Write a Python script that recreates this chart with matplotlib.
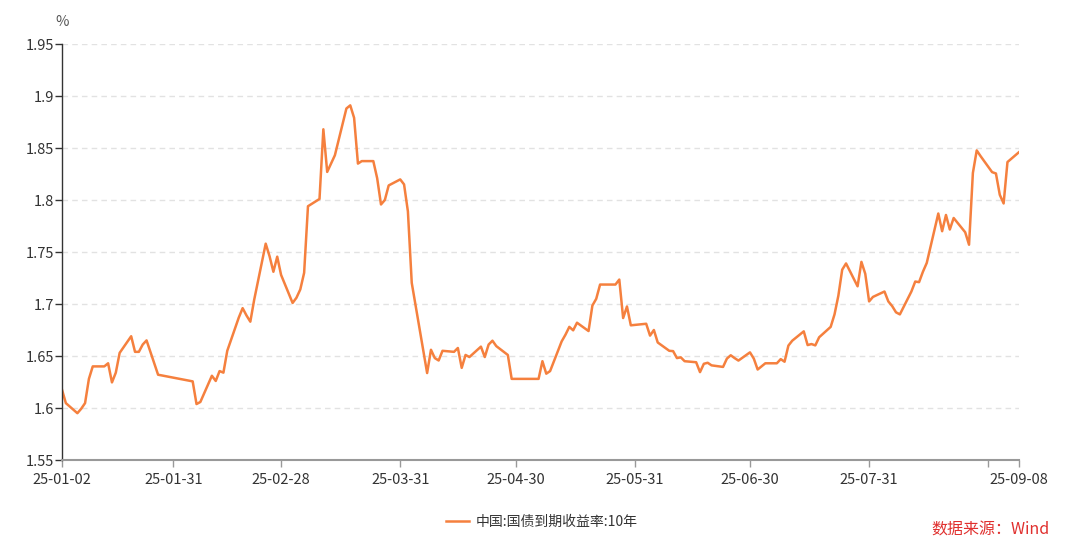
import numpy as np
import pandas as pd
import matplotlib
matplotlib.use("Agg")
import matplotlib.pyplot as plt
import matplotlib.dates as mdates

plt.rcParams['font.family'] = ['Noto Sans CJK SC', 'DejaVu Sans']

# 中国:国债到期收益率:10年 (%)
dates = [
    "2025-01-02", "2025-01-03", "2025-01-06", "2025-01-07", "2025-01-08", "2025-01-09", "2025-01-10",
    "2025-01-13", "2025-01-14", "2025-01-15", "2025-01-16", "2025-01-17",
    "2025-01-20", "2025-01-21", "2025-01-22", "2025-01-23", "2025-01-24", "2025-01-27",
    "2025-02-05", "2025-02-06", "2025-02-07",
    "2025-02-10", "2025-02-11", "2025-02-12", "2025-02-13", "2025-02-14",
    "2025-02-17", "2025-02-18", "2025-02-19", "2025-02-20", "2025-02-21",
    "2025-02-24", "2025-02-25", "2025-02-26", "2025-02-27", "2025-02-28",
    "2025-03-03", "2025-03-04", "2025-03-05", "2025-03-06", "2025-03-07",
    "2025-03-10", "2025-03-11", "2025-03-12", "2025-03-13", "2025-03-14",
    "2025-03-17", "2025-03-18", "2025-03-19", "2025-03-20", "2025-03-21",
    "2025-03-24", "2025-03-25", "2025-03-26", "2025-03-27", "2025-03-28",
    "2025-03-31", "2025-04-01", "2025-04-02", "2025-04-03",
    "2025-04-07", "2025-04-08", "2025-04-09", "2025-04-10", "2025-04-11",
    "2025-04-14", "2025-04-15", "2025-04-16", "2025-04-17", "2025-04-18",
    "2025-04-21", "2025-04-22", "2025-04-23", "2025-04-24", "2025-04-25",
    "2025-04-28", "2025-04-29", "2025-04-30",
    "2025-05-06", "2025-05-07", "2025-05-08", "2025-05-09",
    "2025-05-12", "2025-05-13", "2025-05-14", "2025-05-15", "2025-05-16",
    "2025-05-19", "2025-05-20", "2025-05-21", "2025-05-22", "2025-05-23",
    "2025-05-26", "2025-05-27", "2025-05-28", "2025-05-29", "2025-05-30",
    "2025-06-03", "2025-06-04", "2025-06-05", "2025-06-06",
    "2025-06-09", "2025-06-10", "2025-06-11", "2025-06-12", "2025-06-13",
    "2025-06-16", "2025-06-17", "2025-06-18", "2025-06-19", "2025-06-20",
    "2025-06-23", "2025-06-24", "2025-06-25", "2025-06-26", "2025-06-27",
    "2025-06-30", "2025-07-01", "2025-07-02", "2025-07-03", "2025-07-04",
    "2025-07-07", "2025-07-08", "2025-07-09", "2025-07-10", "2025-07-11",
    "2025-07-14", "2025-07-15", "2025-07-16", "2025-07-17", "2025-07-18",
    "2025-07-21", "2025-07-22", "2025-07-23", "2025-07-24", "2025-07-25",
    "2025-07-28", "2025-07-29", "2025-07-30", "2025-07-31", "2025-08-01",
    "2025-08-04", "2025-08-05", "2025-08-06", "2025-08-07", "2025-08-08",
    "2025-08-11", "2025-08-12", "2025-08-13", "2025-08-14", "2025-08-15",
    "2025-08-18", "2025-08-19", "2025-08-20", "2025-08-21", "2025-08-22",
    "2025-08-25", "2025-08-26", "2025-08-27", "2025-08-28", "2025-08-29",
    "2025-09-01", "2025-09-02", "2025-09-03", "2025-09-04", "2025-09-05",
    "2025-09-08",
]
yields = [
    1.6176, 1.6047, 1.5950, 1.5993, 1.6047, 1.6280, 1.6400,
    1.6400, 1.6430, 1.6246, 1.6340, 1.6530,
    1.6690, 1.6540, 1.6540, 1.6610, 1.6650, 1.6320,
    1.6256, 1.6038, 1.6058,
    1.6310, 1.6260, 1.6355, 1.6340, 1.6550,
    1.6870, 1.6960, 1.6890, 1.6830, 1.7040,
    1.7580, 1.7460, 1.7310, 1.7455, 1.7280,
    1.7010, 1.7060, 1.7140, 1.7300, 1.7940,
    1.8010, 1.8680, 1.8270, 1.8350, 1.8430,
    1.8880, 1.8910, 1.8790, 1.8350, 1.8374,
    1.8374, 1.8210, 1.7957, 1.8000, 1.8140,
    1.8198, 1.8150, 1.7890, 1.7203,
    1.6336, 1.6560, 1.6480, 1.6457, 1.6550,
    1.6540, 1.6577, 1.6386, 1.6510, 1.6490,
    1.6590, 1.6490, 1.6610, 1.6647, 1.6595,
    1.6510, 1.6280, 1.6280,
    1.6280, 1.6450, 1.6330, 1.6355,
    1.6640, 1.6705, 1.6780, 1.6747, 1.6820,
    1.6740, 1.6985, 1.7050, 1.7187, 1.7187,
    1.7187, 1.7235, 1.6865, 1.6976, 1.6795,
    1.6810, 1.6696, 1.6750, 1.6630,
    1.6550, 1.6547, 1.6480, 1.6487, 1.6450,
    1.6440, 1.6345, 1.6425, 1.6435, 1.6410,
    1.6395, 1.6475, 1.6507, 1.6480, 1.6456,
    1.6535, 1.6475, 1.6370, 1.6400, 1.6430,
    1.6430, 1.6470, 1.6445, 1.6600, 1.6647,
    1.6737, 1.6605, 1.6615, 1.6602, 1.6680,
    1.6780, 1.6900, 1.7080, 1.7330, 1.7390,
    1.7170, 1.7405, 1.7290, 1.7025, 1.7068,
    1.7120, 1.7025, 1.6980, 1.6920, 1.6900,
    1.7120, 1.7216, 1.7210, 1.7310, 1.7395,
    1.7870, 1.7700, 1.7856, 1.7716, 1.7827,
    1.7690, 1.7570, 1.8260, 1.8477, 1.8422,
    1.8268, 1.8255, 1.8050, 1.7967, 1.8365,
    1.8460,
]

tick_dates = ["2025-01-02", "2025-01-31", "2025-02-28", "2025-03-31", "2025-04-30",
              "2025-05-31", "2025-06-30", "2025-07-31", "2025-08-31", "2025-09-08"]
tick_labels = ["25-01-02", "25-01-31", "25-02-28", "25-03-31", "25-04-30",
               "25-05-31", "25-06-30", "25-07-31", "", "25-09-08"]
y_ticks = [1.55, 1.6, 1.65, 1.7, 1.75, 1.8, 1.85, 1.9, 1.95]
y_labels = ["1.55", "1.6", "1.65", "1.7", "1.75", "1.8", "1.85", "1.9", "1.95"]

x = pd.to_datetime(dates)

fig = plt.figure(figsize=(10.8, 5.54), dpi=100)
ax = fig.add_axes([62/1080, 1 - 460/554, (1019 - 62)/1080, (460 - 44)/554])

ax.plot(x, yields, color="#F5803E", lw=1.8, label="中国:国债到期收益率:10年")

ax.set_xlim(pd.Timestamp("2025-01-02"), pd.Timestamp("2025-09-08"))
ax.set_ylim(1.55, 1.95)
ax.set_xticks(pd.to_datetime(tick_dates))
ax.set_xticklabels(tick_labels)
ax.set_yticks(y_ticks)
ax.set_yticklabels(y_labels)

ax.grid(axis="y", ls=(0, (4, 3)), color="#e2e2e2", lw=1)
ax.set_axisbelow(True)

for s in ["top", "right"]:
    ax.spines[s].set_visible(False)
ax.spines["left"].set_color("#333333")
ax.spines["left"].set_linewidth(1)
ax.spines["bottom"].set_color("#999999")
ax.spines["bottom"].set_linewidth(1.5)

ax.tick_params(axis="y", length=5, width=1, color="#333333", labelsize=10.5, labelcolor="#333333", pad=1)
ax.tick_params(axis="x", length=5, width=1, color="#999999", labelsize=10.5, labelcolor="#333333", pad=4)

fig.text(62/1080, 1 - 22/554, "%", ha="center", va="center", fontsize=10.5, color="#555555")

ax.legend(loc="center", bbox_to_anchor=(542/1080, 1 - 522/554), bbox_transform=fig.transFigure,
          frameon=False, fontsize=10, handlelength=1.6, handletextpad=0.5, labelcolor="#333333")

fig.text(1050/1080, 1 - 530/554, "数据来源：Wind", ha="right", va="center", fontsize=11.5, color="#E0302E")

fig.savefig("out.png", dpi=100)
